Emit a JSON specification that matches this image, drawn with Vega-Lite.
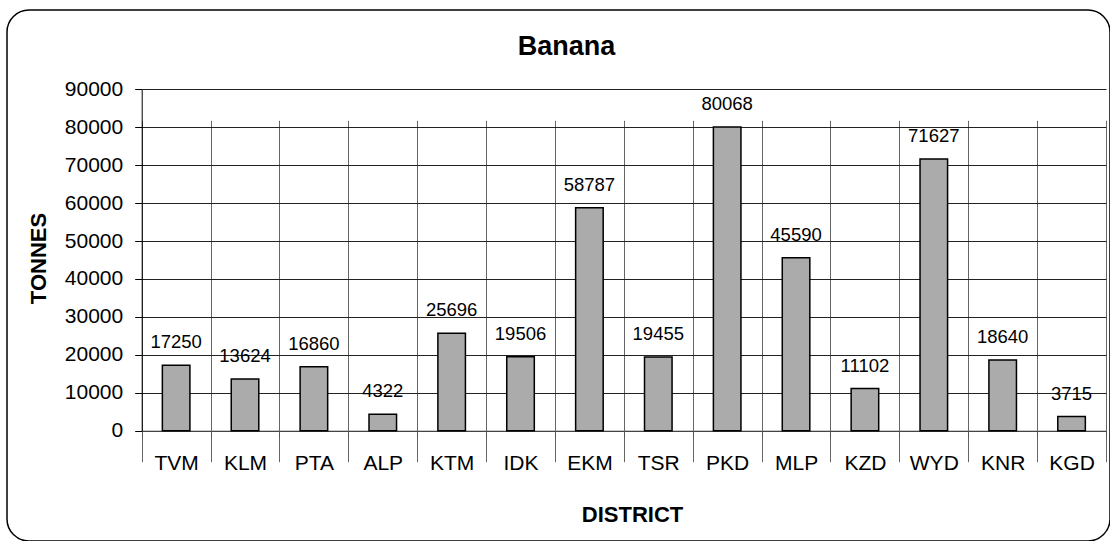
{
  "$schema": "https://vega.github.io/schema/vega-lite/v6.json",
  "width": 1103,
  "height": 531,
  "autosize": {"type": "none"},
  "padding": {"left": 7, "top": 10, "right": 0, "bottom": 0},
  "background": "white",
  "config": {
    "font": "Liberation Sans",
    "view": {"stroke": "#000", "strokeWidth": 1.5, "cornerRadius": 22, "fill": "white"}
  },
  "title": {"text": "Banana", "fontSize": 27, "fontWeight": "bold", "color": "#000", "offset": 0, "anchor": "middle", "dx": 8, "dy": 51, "font": "Liberation Sans"},
  "data": {"values": [
    {"district": "TVM", "value": 17250},
    {"district": "KLM", "value": 13624},
    {"district": "PTA", "value": 16860},
    {"district": "ALP", "value": 4322},
    {"district": "KTM", "value": 25696},
    {"district": "IDK", "value": 19506},
    {"district": "EKM", "value": 58787},
    {"district": "TSR", "value": 19455},
    {"district": "PKD", "value": 80068},
    {"district": "MLP", "value": 45590},
    {"district": "KZD", "value": 11102},
    {"district": "WYD", "value": 71627},
    {"district": "KNR", "value": 18640},
    {"district": "KGD", "value": 3715}
  ]},
  "encoding": {
    "x": {
      "field": "district", "type": "nominal", "sort": null,
      "scale": {"range": [134.7, 1099], "paddingInner": 0, "paddingOuter": 0},
      "axis": {
        "title": "DISTRICT", "orient": "bottom", "offset": -110.3,
        "tickBand": "extent", "grid": true, "gridColor": "#666", "gridWidth": 1,
        "domainColor": "#555", "tickColor": "#555", "tickSize": 7,
        "labelAngle": 0, "labelFontSize": 21, "labelColor": "#000", "labelPadding": 15, "labelFont": "Liberation Sans",
        "titleFontSize": 22, "titleFontWeight": "bold", "titleColor": "#000", "titleFont": "Liberation Sans",
        "titleX": 625, "titleY": 91, "titleBaseline": "alphabetic"
      }
    },
    "y": {
      "field": "value", "type": "quantitative",
      "scale": {"domain": [0, 90000], "range": [420.7, 79.3], "nice": false, "zero": true},
      "axis": {
        "title": "TONNES", "orient": "left", "offset": -134.7,
        "values": [0, 10000, 20000, 30000, 40000, 50000, 60000, 70000, 80000, 90000],
        "format": "d", "grid": true, "gridColor": "#222", "gridWidth": 1,
        "domainColor": "#000", "tickColor": "#000", "tickSize": 7,
        "labelFontSize": 21, "labelPadding": 12, "labelColor": "#000", "labelFont": "Liberation Sans",
        "titleFontSize": 22, "titleFontWeight": "bold", "titleColor": "#000", "titleFont": "Liberation Sans",
        "titleX": -96.7, "titleY": 248, "titleBaseline": "alphabetic", "titleAngle": -90
      }
    }
  },
  "layer": [
    {"mark": {"type": "bar", "fill": "#ababab", "stroke": "#000", "strokeWidth": 1.5, "width": {"band": 0.4}}},
    {"mark": {"type": "text", "baseline": "alphabetic", "dy": -17, "fontSize": 18.5, "color": "#000", "font": "Liberation Sans"},
     "encoding": {"text": {"field": "value", "type": "quantitative", "format": "d"}}}
  ]
}
